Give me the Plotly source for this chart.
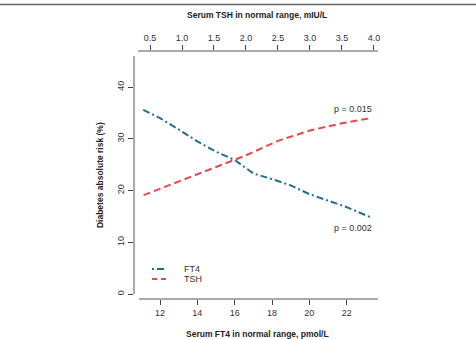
import plotly.graph_objects as go

# FT4 (pmol/L) vs diabetes absolute risk (%)
ft4_x = [11.1, 12, 13, 14, 15, 16, 16.5, 17, 18, 19, 20, 21, 22, 23.3]
ft4_y = [35.6, 34.0, 31.8, 29.5, 27.5, 25.9, 24.6, 23.3, 22.2, 21.0, 19.3, 18.0, 16.8, 14.8]

# TSH (mIU/L) vs diabetes absolute risk (%)
tsh_x = [0.4, 0.75, 1.0, 1.5, 2.0, 2.5, 3.0, 3.5, 3.96]
tsh_y = [19.1, 20.8, 22.0, 24.4, 26.8, 29.6, 31.6, 33.0, 34.0]

ft4_ticks = [12, 14, 16, 18, 20, 22]
tsh_ticks = [0.5, 1.0, 1.5, 2.0, 2.5, 3.0, 3.5, 4.0]
tsh_ticklabels = ["0.5", "1.0", "1.5", "2.0", "2.5", "3.0", "3.5", "4.0"]
y_ticks = [0, 10, 20, 30, 40]

FT4_COLOR = "#1d6f8c"
TSH_COLOR = "#e5474d"
FT4_DASH = "7px,3px,2px,3px"
TSH_DASH = "7px,4px"
FONT = "Liberation Sans, Arial, sans-serif"

fig = go.Figure()
fig.add_trace(go.Scatter(x=ft4_x, y=ft4_y, mode="lines", name="FT4",
                         line=dict(color=FT4_COLOR, width=2, dash=FT4_DASH),
                         xaxis="x", yaxis="y", showlegend=False))
fig.add_trace(go.Scatter(x=tsh_x, y=tsh_y, mode="lines", name="TSH",
                         line=dict(color=TSH_COLOR, width=2, dash=TSH_DASH),
                         xaxis="x2", yaxis="y", showlegend=False))

tickfont = dict(family=FONT, size=9, color="#333")
fig.update_layout(
    width=476, height=339,
    margin=dict(l=134, r=96, t=51, b=40),
    paper_bgcolor="white", plot_bgcolor="white",
    font=dict(family=FONT, size=9, color="#222"),
    xaxis=dict(range=[10.607, 23.786], tickvals=ft4_ticks, ticks="outside",
               ticklen=5, tickcolor="#444", showline=False, showgrid=False,
               zeroline=False, tickfont=tickfont),
    xaxis2=dict(range=[0.25, 4.094], tickvals=tsh_ticks, ticktext=tsh_ticklabels,
                overlaying="x", side="top", anchor="y", ticks="outside",
                ticklen=5, tickcolor="#444", showline=False, showgrid=False,
                zeroline=False, tickfont=tickfont),
    yaxis=dict(range=[-0.966, 46.96], tickvals=y_ticks, ticks="outside",
               ticklen=5, tickcolor="#444", showline=False, showgrid=False,
               zeroline=False, tickangle=-90, tickfont=tickfont),
)

line_style = dict(color="#555", width=1)
shapes = [
    # bottom axis line
    dict(type="line", xref="x", yref="paper", x0=10.875, x1=23.68, y0=0, y1=0, line=line_style),
    # top axis line
    dict(type="line", xref="x2", yref="paper", x0=0.3125, x1=4.0625, y0=1, y1=1, line=line_style),
    # left axis line
    dict(type="line", xref="paper", yref="y", x0=0, x1=0, y0=0, y1=46.0, line=line_style),
    # top frame line
    dict(type="line", xref="paper", yref="paper", x0=-0.6, x1=1.45, y0=1.1875, y1=1.1875,
         line=dict(color="#666", width=1.5)),
    # legend samples
    dict(type="line", xref="x", yref="y", x0=11.57, x1=12.32, y0=4.83, y1=4.83,
         line=dict(color=FT4_COLOR, width=2, dash="2px,3px,7px,3px")),
    dict(type="line", xref="x", yref="y", x0=11.57, x1=12.32, y0=2.9, y1=2.9,
         line=dict(color=TSH_COLOR, width=2, dash="5px,4px")),
]
fig.update_layout(shapes=shapes)

title_font = dict(family=FONT, size=8.5, color="#222")
annotations = [
    dict(text="<b>Serum FT4 in normal range, pmol/L</b>", xref="paper", yref="paper",
         x=0.5, y=-0.141, showarrow=False, font=title_font, xanchor="center", yanchor="middle"),
    dict(text="<b>Serum TSH in normal range, mIU/L</b>", xref="paper", yref="paper",
         x=0.5, y=1.145, showarrow=False, font=title_font, xanchor="center", yanchor="middle"),
    dict(text="<b>Diabetes absolute risk (%)</b>", xref="paper", yref="paper",
         x=-0.138, y=0.5, showarrow=False, font=title_font, textangle=-90,
         xanchor="center", yanchor="middle"),
    dict(text="p = 0.015", xref="x", yref="y", x=22.34, y=35.75, showarrow=False,
         font=dict(family=FONT, size=9, color="#333")),
    dict(text="p = 0.002", xref="x", yref="y", x=22.34, y=12.75, showarrow=False,
         font=dict(family=FONT, size=9, color="#333")),
    dict(text="FT4", xref="x", yref="y", x=13.18, y=4.83, showarrow=False, xanchor="left",
         font=dict(family=FONT, size=9, color="#333")),
    dict(text="TSH", xref="x", yref="y", x=13.18, y=2.9, showarrow=False, xanchor="left",
         font=dict(family=FONT, size=9, color="#333")),
]
fig.update_layout(annotations=annotations)

fig.write_html("out.html")
